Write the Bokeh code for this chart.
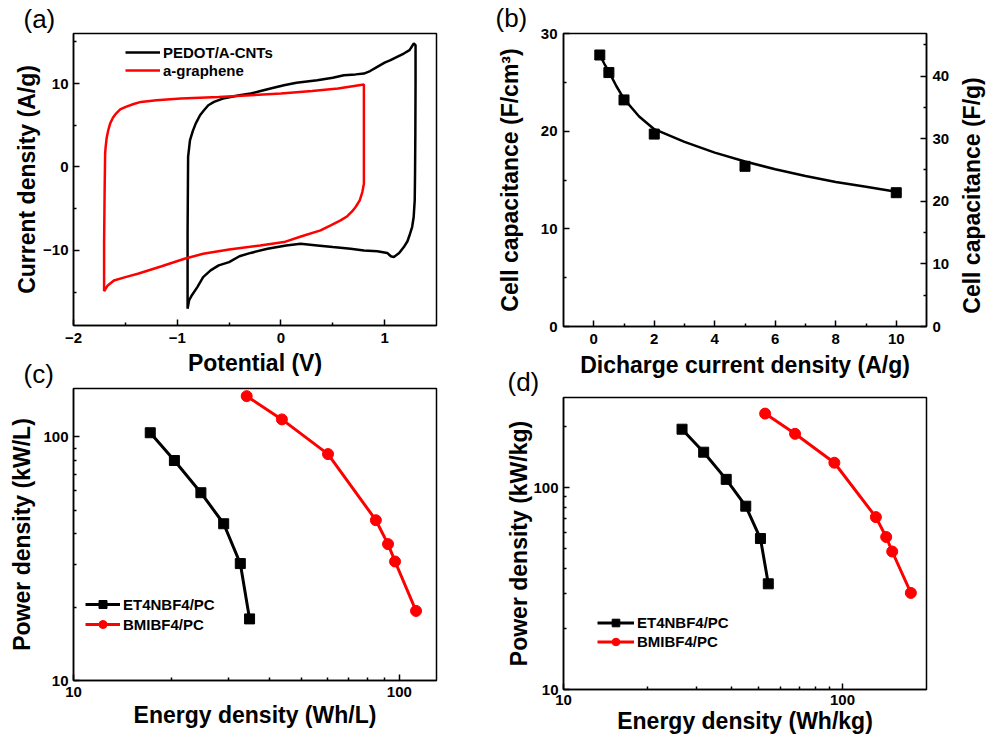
from bokeh.plotting import figure
from bokeh.models import (Range1d, LinearAxis, FixedTicker, Title, Legend,
                          LegendItem, PrintfTickFormatter)
from bokeh.layouts import column, row
from bokeh.embed import file_html
from bokeh.resources import INLINE
import math

FONT = "Liberation Sans"
RED = "#ff0000"

# ---------------- (a) cyclic voltammograms ----------------
cnt_potential = [-0.90, -0.90, -0.895, -0.877, -0.85, -0.822, -0.78, -0.742, -0.70, -0.645,
                 -0.56, -0.485, -0.40, -0.292, -0.196, -0.10, 0.029, 0.15, 0.35, 0.50,
                 0.607, 0.72, 0.80, 0.86, 0.929, 1.0, 1.057, 1.12, 1.185, 1.24, 1.281,
                 1.298, 1.298, 1.296, 1.293, 1.29, 1.28, 1.265, 1.245, 1.22, 1.185, 1.14,
                 1.089, 1.06, 1.025, 0.929, 0.80, 0.672, 0.50, 0.35, 0.19, 0.05, -0.13,
                 -0.292, -0.40, -0.50, -0.60, -0.678, -0.75, -0.806, -0.86, -0.886, -0.90]
cnt_current = [-17.0, -8.0, 1.2, 3.2, 4.3, 5.2, 6.2, 6.8, 7.4, 7.8,
               8.2, 8.4, 8.6, 8.8, 9.1, 9.4, 9.8, 10.1, 10.4, 10.7,
               11.0, 11.1, 11.2, 11.5, 12.0, 12.5, 12.8, 13.2, 13.6, 14.0, 14.8,
               14.6, 10.0, 4.0, -1.0, -4.0, -6.0, -7.2, -8.0, -8.9, -9.6, -10.3,
               -10.8, -10.7, -10.3, -10.1, -10.0, -9.8, -9.6, -9.4, -9.2, -9.4, -9.8,
               -10.3, -10.7, -11.4, -11.8, -12.4, -13.2, -14.4, -15.4, -16.0, -17.0]

gr_potential = [-1.705, -1.705, -1.70, -1.695, -1.69, -1.68, -1.665, -1.647, -1.62, -1.59,
                -1.55, -1.496, -1.42, -1.35, -1.2, -0.966, -0.6, -0.292, 0.0, 0.3,
                0.55, 0.80, 0.80, 0.80, 0.785, 0.76, 0.72, 0.688, 0.64, 0.575,
                0.48, 0.382, 0.2, 0.03, -0.2, -0.5, -0.75, -0.93, -1.15, -1.38,
                -1.5, -1.61, -1.67, -1.705]
gr_current = [-14.9, -9.2, -3.0, 1.6, 2.4, 3.5, 4.4, 5.2, 5.9, 6.4,
              6.9, 7.2, 7.55, 7.8, 8.0, 8.2, 8.4, 8.6, 8.8, 9.1,
              9.4, 9.9, 8.0, -2.0, -3.0, -4.0, -4.8, -5.3, -5.9, -6.4,
              -7.0, -7.6, -8.3, -9.0, -9.4, -9.9, -10.4, -11.0, -11.9, -12.8,
              -13.2, -13.6, -14.2, -14.9]

# ---------------- (b) rate capability ----------------
rate = [0.2, 0.5, 1, 2, 5, 10]
cap_vol = [27.8, 26.0, 23.2, 19.7, 16.4, 13.7]
fit_rate = [0.2, 0.35, 0.5, 0.75, 1.0, 1.5, 2, 3, 4, 5, 6, 7, 8, 9, 10]
fit_cap = [27.8, 26.9, 26.1, 24.6, 23.3, 21.5, 20.2, 18.9, 17.8, 16.9, 16.1, 15.4, 14.8, 14.3, 13.8]

# ---------------- (c) volumetric Ragone ----------------
et_energy_vol = [17.2, 20.4, 24.6, 28.9, 32.5, 34.7]
et_power_vol = [104, 80, 59, 44, 30.2, 17.9]
bm_energy_vol = [34.0, 43.6, 60.4, 84.7, 92.3, 97.0, 112.5]
bm_power_vol = [147, 118, 85, 45.5, 36.3, 30.8, 19.3]

# ---------------- (d) gravimetric Ragone ----------------
et_energy_grav = [26.6, 31.8, 38.3, 45.0, 50.8, 54.2]
et_power_grav = [195, 150, 110, 81, 56, 33.4]
bm_energy_grav = [52.8, 67.6, 93.5, 131.7, 143.4, 150.7, 175.8]
bm_power_grav = [233, 185, 133, 71.5, 57, 48.3, 30.1]

decade_minor = [20, 30, 40, 50, 60, 70, 80, 90]


def style_axis(ax, label_standoff, title_standoff):
    ax.major_tick_in = 6
    ax.major_tick_out = 0
    ax.minor_tick_in = 3
    ax.minor_tick_out = 0
    ax.major_tick_line_width = 1.5
    ax.minor_tick_line_width = 1.5
    ax.axis_line_width = 1.5
    ax.major_label_text_font = FONT
    ax.major_label_text_font_style = "bold"
    ax.major_label_text_font_size = "15px"
    ax.major_label_text_color = "black"
    ax.major_label_standoff = label_standoff
    ax.axis_label_text_font = FONT
    ax.axis_label_text_font_style = "bold"
    ax.axis_label_text_font_size = "23px"
    ax.axis_label_text_color = "black"
    ax.axis_label_standoff = title_standoff


def new_figure(top, bottom, right, frame_h, **kw):
    p = figure(frame_width=363, frame_height=frame_h, min_border_left=73,
               min_border_right=right, min_border_top=top, min_border_bottom=bottom,
               output_backend="svg", toolbar_location=None, **kw)
    p.frame_align = False
    p.outline_line_color = "black"
    p.outline_line_width = 1.5
    p.outline_line_alpha = 1
    p.grid.visible = False
    p.background_fill_alpha = 0
    p.border_fill_alpha = 0
    return p


def panel_label(p, text, offset, standoff):
    p.add_layout(Title(text=text, align="left", offset=offset, standoff=standoff,
                       text_font=FONT, text_font_size="26px", text_font_style="normal",
                       text_color="black"), "above")


def make_legend(p, items, loc, glyph_w, glyph_h):
    lg = Legend(items=items, location=loc, orientation="vertical",
                border_line_alpha=0, background_fill_alpha=0, padding=0, margin=0,
                spacing=0, glyph_width=glyph_w, glyph_height=glyph_h, label_height=glyph_h,
                label_standoff=3, label_text_font=FONT, label_text_font_style="bold",
                label_text_font_size="15px", label_text_color="black")
    p.add_layout(lg)


# ---------------- panel (a) ----------------
pa = new_figure(33, 55, 54, 292, x_range=Range1d(-2, 1.5), y_range=Range1d(-19, 16))
la = pa.line(cnt_potential, cnt_current, line_color="black", line_width=2.5)
lb = pa.line(gr_potential, gr_current, line_color=RED, line_width=2.5)
pa.xaxis.ticker = FixedTicker(ticks=[-2, -1, 0, 1], minor_ticks=[-1.5, -0.5, 0.5])
pa.yaxis.ticker = FixedTicker(ticks=[-10, 0, 10], minor_ticks=[-15, -5, 5, 15])
pa.xaxis.axis_label = "Potential (V)"
pa.yaxis.axis_label = "Current density (A/g)"
style_axis(pa.xaxis[0], 7, 4)
style_axis(pa.yaxis[0], 5, 0)
make_legend(pa, [LegendItem(label="PEDOT/A-CNTs", renderers=[la]),
                 LegendItem(label="a-graphene", renderers=[lb])], (52, 246), 35, 18)
panel_label(pa, "(a)", -50, 0)

# ---------------- panel (b) ----------------
pb = new_figure(33, 54, 60, 293, x_range=Range1d(-1, 11), y_range=Range1d(0, 30))
pb.extra_y_ranges = {"grav": Range1d(0, 46.8)}
pb.line(fit_rate, fit_cap, line_color="black", line_width=2.5)
pb.scatter(rate, cap_vol, marker="square", size=10, color="black")
pb.xaxis.ticker = FixedTicker(ticks=[0, 2, 4, 6, 8, 10], minor_ticks=[1, 3, 5, 7, 9])
pb.yaxis.ticker = FixedTicker(ticks=[0, 10, 20, 30], minor_ticks=[5, 15, 25])
pb.xaxis.axis_label = "Dicharge current density (A/g)"
pb.yaxis.axis_label = "Cell capacitance (F/cm³)"
right_ax = LinearAxis(y_range_name="grav",
                      ticker=FixedTicker(ticks=[0, 10, 20, 30, 40],
                                         minor_ticks=[5, 15, 25, 35, 45]))
style_axis(right_ax, 6, 20)
if "axis_label_align" in right_ax.properties():
    # upward-reading title, started from the lower end of the axis
    right_ax.axis_label = "\u00a0\u00a0Cell capacitance (F/g)"
    right_ax.axis_label_orientation = math.pi / 2
    right_ax.axis_label_align = "start"
else:
    right_ax.axis_label = "Cell capacitance (F/g)"
pb.add_layout(right_ax, "right")
style_axis(pb.xaxis[0], 7, 5)
style_axis(pb.yaxis[0], 6, 15)
panel_label(pb, "(b)", -68, 1)

# ---------------- panel (c) ----------------
pc = new_figure(33, 58, 54, 292, x_axis_type="log", y_axis_type="log",
                x_range=Range1d(10, 130), y_range=Range1d(10, 158))
c1 = pc.line(et_energy_vol, et_power_vol, line_color="black", line_width=3)
c2 = pc.scatter(et_energy_vol, et_power_vol, marker="square", size=10, color="black")
c3 = pc.line(bm_energy_vol, bm_power_vol, line_color=RED, line_width=3)
c4 = pc.scatter(bm_energy_vol, bm_power_vol, marker="circle", size=11, color=RED)
for ax in (pc.xaxis[0], pc.yaxis[0]):
    ax.ticker = FixedTicker(ticks=[10, 100], minor_ticks=decade_minor)
    ax.formatter = PrintfTickFormatter(format="%d")
pc.xaxis.axis_label = "Energy density (Wh/L)"
pc.yaxis.axis_label = "Power density (kW/L)"
style_axis(pc.xaxis[0], 6, 2)
style_axis(pc.yaxis[0], 5, 5)
make_legend(pc, [LegendItem(label="ET4NBF4/PC", renderers=[c1, c2]),
                 LegendItem(label="BMIBF4/PC", renderers=[c3, c4])], (12, 46), 35, 20)
panel_label(pc, "(c)", -50, 0)

# ---------------- panel (d) ----------------
pd = new_figure(42, 49, 60, 292, x_axis_type="log", y_axis_type="log",
                x_range=Range1d(10, 200), y_range=Range1d(10, 280))
d1 = pd.line(et_energy_grav, et_power_grav, line_color="black", line_width=3)
d2 = pd.scatter(et_energy_grav, et_power_grav, marker="square", size=10, color="black")
d3 = pd.line(bm_energy_grav, bm_power_grav, line_color=RED, line_width=3)
d4 = pd.scatter(bm_energy_grav, bm_power_grav, marker="circle", size=11, color=RED)
pd.xaxis.ticker = FixedTicker(ticks=[10, 100], minor_ticks=decade_minor)
pd.yaxis.ticker = FixedTicker(ticks=[10, 100], minor_ticks=decade_minor + [200])
for ax in (pd.xaxis[0], pd.yaxis[0]):
    ax.formatter = PrintfTickFormatter(format="%d")
pd.xaxis.axis_label = "Energy density (Wh/kg)"
pd.yaxis.axis_label = "Power density (kW/kg)"
style_axis(pd.xaxis[0], 5, 0)
style_axis(pd.yaxis[0], 5, -2)
make_legend(pd, [LegendItem(label="ET4NBF4/PC", renderers=[d1, d2]),
                 LegendItem(label="BMIBF4/PC", renderers=[d3, d4])], (34, 38), 37, 19)
panel_label(pd, "(d)", -56, 2)

top_row = row(pa, pb)
bottom_row = row(pc, pd)
# the lower row tucks up under the upper row's axis titles (transparent borders)
bottom_row.margin = (-25, 0, 0, 0)
layout = column(top_row, bottom_row)

open("out.html", "w").write(file_html(layout, INLINE))
